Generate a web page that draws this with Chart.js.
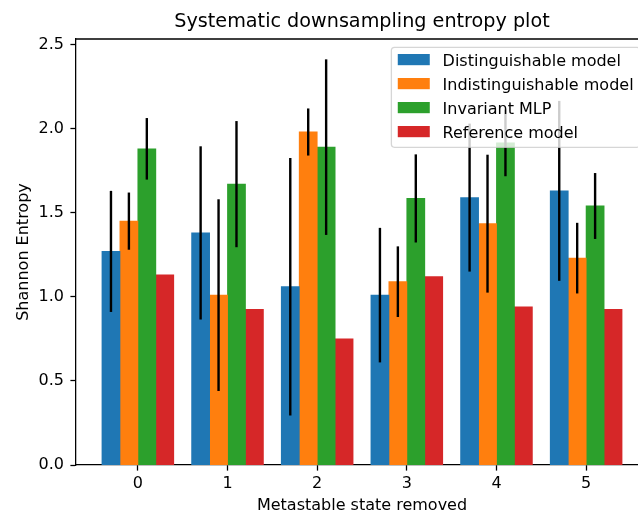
<!DOCTYPE html>
<html>
<head>
<meta charset="utf-8">
<script src="https://cdn.jsdelivr.net/npm/chart.js@4.4.1/dist/chart.umd.min.js"></script>
<style>
  html, body { margin: 0; padding: 0; background: #fff; overflow: hidden; width: 638px; height: 514px; }
  #wrap { width: 660px; height: 514px; }
  canvas { display: block; }
</style>
</head>
<body>
<div id="wrap"><canvas id="c" width="660" height="514"></canvas></div>
<script>
// ---- data ----
const categories = ['0', '1', '2', '3', '4', '5'];
const distinguishable = [1.27, 1.38, 1.06, 1.01, 1.59, 1.63];
const distinguishableErr = [0.36, 0.515, 0.765, 0.40, 0.44, 0.535];
const indistinguishable = [1.45, 1.01, 1.98, 1.09, 1.435, 1.23];
const indistinguishableErr = [0.17, 0.57, 0.14, 0.21, 0.41, 0.21];
const invariantMLP = [1.88, 1.67, 1.89, 1.585, 1.915, 1.54];
const invariantMLPErr = [0.183, 0.375, 0.522, 0.262, 0.198, 0.196];
const referenceModel = [1.13, 0.925, 0.75, 1.12, 0.94, 0.925];
const yTicks = [0, 0.5, 1.0, 1.5, 2.0, 2.5];
const seriesNames = ['Distinguishable model', 'Indistinguishable model', 'Invariant MLP', 'Reference model'];
const seriesColors = ['#1f77b4', '#ff7f0e', '#2ca02c', '#d62728'];

const FONT = "'DejaVu Sans', sans-serif";
Chart.defaults.font.family = FONT;
Chart.defaults.font.size = 16;
Chart.defaults.color = '#000';

function toPoints(arr) { return arr.map((v, i) => ({ x: i, y: v })); }

const seriesValues = [distinguishable, indistinguishable, invariantMLP, referenceModel];
const seriesErrors = [distinguishableErr, indistinguishableErr, invariantMLPErr, null];

const datasets = seriesValues.map((vals, k) => ({
  label: seriesNames[k],
  data: toPoints(vals),
  backgroundColor: seriesColors[k],
  borderWidth: 0,
  inflateAmount: 0.4,
  categoryPercentage: 0.8,
  barPercentage: 1.0,
  errors: seriesErrors[k]
}));

const errorBarPlugin = {
  id: 'errorBars',
  afterDatasetsDraw(chart) {
    const ctx = chart.ctx;
    const y = chart.scales.y;
    ctx.save();
    ctx.strokeStyle = '#000';
    ctx.lineWidth = 2.4;
    ctx.lineCap = 'butt';
    chart.data.datasets.forEach((ds, di) => {
      if (!ds.errors) return;
      const meta = chart.getDatasetMeta(di);
      meta.data.forEach((bar, i) => {
        const v = ds.data[i].y, e = ds.errors[i];
        ctx.beginPath();
        ctx.moveTo(bar.x, y.getPixelForValue(v - e));
        ctx.lineTo(bar.x, y.getPixelForValue(v + e));
        ctx.stroke();
      });
    });
    ctx.restore();
  }
};

const framePlugin = {
  id: 'frame',
  afterDatasetsDraw(chart) {
    const { ctx, chartArea: a } = chart;
    ctx.save();
    ctx.strokeStyle = '#000';
    ctx.lineWidth = 1.28;
    ctx.beginPath();
    ctx.moveTo(a.left, a.top);
    ctx.lineTo(a.right, a.top);
    ctx.lineTo(a.right, a.bottom);
    ctx.stroke();
    ctx.restore();
  }
};

const legendPlugin = {
  id: 'mplLegend',
  afterDraw(chart) {
    const { ctx, chartArea: a } = chart;
    const fs = 16;
    ctx.save();
    ctx.font = fs + 'px ' + FONT;
    const labels = chart.data.datasets.map(d => d.label);
    const maxW = Math.max(...labels.map(t => ctx.measureText(t).width));
    const pad = 0.4 * fs, handle = 2 * fs, gap = 0.8 * fs;
    const w = pad + handle + gap + maxW + pad;
    const h = 100;
    const right = a.right - 0.5 * fs;
    const left = right - w;
    const top = a.top + 8.3;
    const r = 3.2;
    ctx.beginPath();
    ctx.moveTo(left + r, top);
    ctx.lineTo(right - r, top);
    ctx.arcTo(right, top, right, top + r, r);
    ctx.lineTo(right, top + h - r);
    ctx.arcTo(right, top + h, right - r, top + h, r);
    ctx.lineTo(left + r, top + h);
    ctx.arcTo(left, top + h, left, top + h - r, r);
    ctx.lineTo(left, top + r);
    ctx.arcTo(left, top, left + r, top, r);
    ctx.closePath();
    ctx.fillStyle = 'rgba(255,255,255,0.8)';
    ctx.fill();
    ctx.strokeStyle = 'rgba(204,204,204,0.8)';
    ctx.lineWidth = 1.28;
    ctx.stroke();
    chart.data.datasets.forEach((ds, i) => {
      const py = top + 6.7 + i * 24;
      ctx.fillStyle = ds.backgroundColor;
      ctx.fillRect(left + pad, py, handle, 11.2);
      ctx.fillStyle = '#000';
      ctx.textBaseline = 'alphabetic';
      ctx.textAlign = 'left';
      ctx.fillText(ds.label, left + pad + handle + gap, py + 5.6 + 6);
    });
    ctx.restore();
  }
};

new Chart(document.getElementById('c'), {
  type: 'bar',
  data: { labels: categories, datasets },
  plugins: [errorBarPlugin, framePlugin, legendPlugin],
  options: {
    responsive: false,
    animation: false,
    layout: { padding: { left: 0, right: 12, top: 0, bottom: 0 } },
    plugins: {
      legend: { display: false },
      tooltip: { enabled: false },
      title: {
        display: true,
        fullSize: false,
        text: 'Systematic downsampling entropy plot',
        font: { size: 19.2, weight: 'normal', family: FONT },
        color: '#000',
        padding: { top: 10.5, bottom: 5.46 }
      }
    },
    scales: {
      x: {
        type: 'linear',
        min: -0.69,
        max: 5.69,
        offset: false,
        afterFit(s) { s.height = 49; },
        afterBuildTicks(s) { s.ticks = categories.map((c, i) => ({ value: i })); },
        ticks: {
          autoSkip: false,
          maxRotation: 0,
          padding: 4,
          color: '#000',
          font: { size: 16 },
          callback: (v) => categories[v]
        },
        grid: { display: true, offset: false, drawOnChartArea: false, drawTicks: true, tickLength: 5.6, tickWidth: 1.28, tickColor: '#000' },
        border: { display: true, color: '#000', width: 1.28 },
        title: { display: true, text: 'Metastable state removed', font: { size: 16 }, color: '#000', padding: { top: 0, bottom: -1.6 } }
      },
      y: {
        type: 'linear',
        min: 0,
        max: 2.533,
        afterFit(s) { s.width = 76; },
        afterBuildTicks(s) { s.ticks = yTicks.map(v => ({ value: v })); },
        ticks: {
          padding: 6.5,
          color: '#000',
          font: { size: 16 },
          callback: (v) => v.toFixed(1)
        },
        grid: { display: true, drawOnChartArea: false, drawTicks: true, tickLength: 5.6, tickWidth: 1.28, tickColor: '#000' },
        border: { display: true, color: '#000', width: 1.28 },
        title: { display: true, text: 'Shannon Entropy', font: { size: 16 }, color: '#000', padding: { top: 14, bottom: 0 } }
      }
    }
  }
});
</script>
</body>
</html>
